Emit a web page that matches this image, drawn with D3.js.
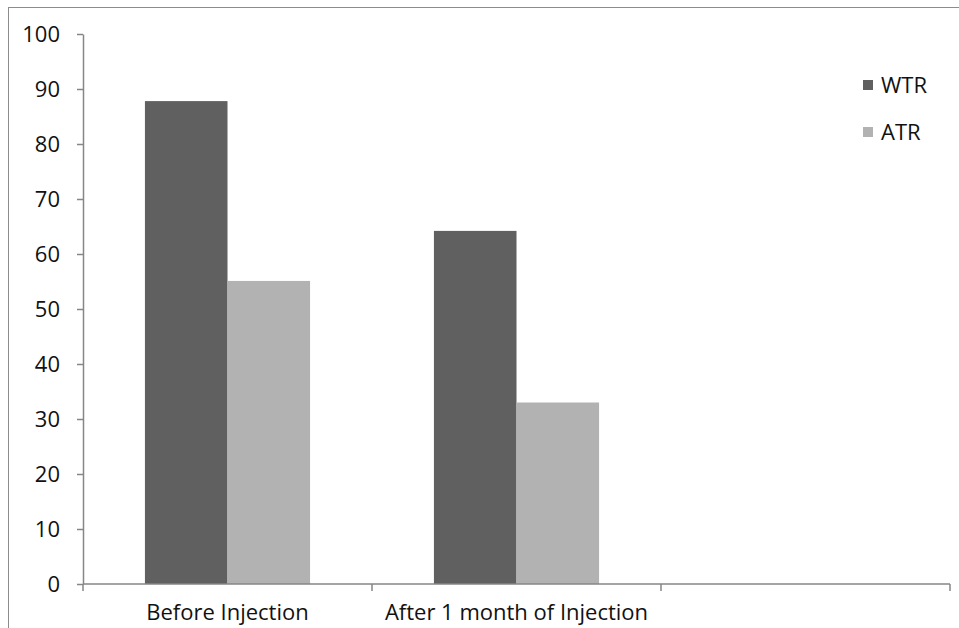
<!DOCTYPE html>
<html>
<head>
<meta charset="utf-8">
<script src="https://cdn.jsdelivr.net/npm/d3@7"></script>
<style>
  html, body { margin: 0; padding: 0; background: #fff; }
  svg { display: block; }
  text { font-family: "Open Sans", Lato, sans-serif; fill: #111; }
</style>
</head>
<body>
<svg id="chart" width="959" height="628"></svg>
<script>
// Categories along the x axis (the third slot is empty)
const categories = ["Before Injection", "After 1 month of Injection", ""];
// Series values per category
const seriesNames = ["WTR", "ATR"];
const wtrValues = [87.8, 64.2, null];
const atrValues = [55.1, 33.0, null];
// Y-axis ticks
const yTicks = [0, 10, 20, 30, 40, 50, 60, 70, 80, 90, 100];
const seriesColors = ["#606060", "#b2b2b2"];

const FONT = "'Open Sans', Lato, sans-serif";
const FS = 22;

const svg = d3.select("#chart");

// Outer chart frame
svg.append("rect")
  .attr("x", 8.5).attr("y", 7.5)
  .attr("width", 1000).attr("height", 700)
  .attr("fill", "none").attr("stroke", "#8c8c8c").attr("stroke-width", 1);

const plotLeft = 83, plotRight = 950, plotTop = 34, plotBottom = 584;

const x = d3.scaleBand().domain(d3.range(categories.length))
  .range([plotLeft, plotRight]).paddingInner(0).paddingOuter(0);
const y = d3.scaleLinear().domain([0, 100]).range([plotBottom, plotTop]);

// Two bars per category, gap width 150% of a bar
const gap = x.bandwidth() * 0.75 / 3.5;
const inner = d3.scaleBand().domain(seriesNames)
  .range([gap, x.bandwidth() - gap]);

const rows = categories.map((c, i) => ({ i, WTR: wtrValues[i], ATR: atrValues[i] }));

const groups = svg.append("g").selectAll("g").data(rows).join("g")
  .attr("transform", d => `translate(${x(d.i)},0)`);

groups.selectAll("rect")
  .data(d => seriesNames.map((s, k) => ({ s, k, v: d[s] })).filter(e => e.v != null))
  .join("rect")
  .attr("x", e => inner(e.s))
  .attr("width", inner.bandwidth())
  .attr("y", e => y(e.v))
  .attr("height", e => y(0) - y(e.v))
  .attr("fill", e => seriesColors[e.k]);

// Y axis
const yAxis = d3.axisLeft(y).tickValues(yTicks).tickSize(6).tickPadding(17).tickSizeOuter(0);
const gy = svg.append("g").attr("transform", `translate(${plotLeft},0)`).call(yAxis);
gy.select(".domain").attr("stroke", "#868686").attr("stroke-width", 1.5);
gy.selectAll(".tick line").attr("stroke", "#868686").attr("stroke-width", 1.5);
gy.selectAll(".tick text").attr("font-size", FS).style("fill", "#111")
  .attr("font-family", FONT).attr("dy", "0.36em");

// X axis with tick marks on the category boundaries
const xLine = svg.append("g");
xLine.append("line")
  .attr("x1", plotLeft).attr("x2", plotRight)
  .attr("y1", plotBottom).attr("y2", plotBottom)
  .attr("stroke", "#868686").attr("stroke-width", 1.5);
const boundaries = d3.range(categories.length + 1).map(i => plotLeft + i * x.step());
xLine.selectAll("line.tk").data(boundaries).join("line")
  .attr("class", "tk")
  .attr("x1", d => d).attr("x2", d => d)
  .attr("y1", plotBottom).attr("y2", plotBottom + 7)
  .attr("stroke", "#868686").attr("stroke-width", 1.5);
xLine.selectAll("text").data(rows).join("text")
  .attr("x", d => x(d.i) + x.bandwidth() / 2)
  .attr("y", 620)
  .attr("text-anchor", "middle")
  .attr("font-size", FS)
  .text(d => categories[d.i]);

// Legend
const legend = svg.append("g");
const lg = legend.selectAll("g").data(seriesNames).join("g")
  .attr("transform", (d, k) => `translate(863,${85 + k * 47})`);
lg.append("rect").attr("x", 0).attr("y", -5).attr("width", 10).attr("height", 10)
  .attr("fill", (d, k) => seriesColors[k]);
lg.append("text").attr("x", 18).attr("y", 8).attr("font-size", FS).text(d => d);
</script>
</body>
</html>
